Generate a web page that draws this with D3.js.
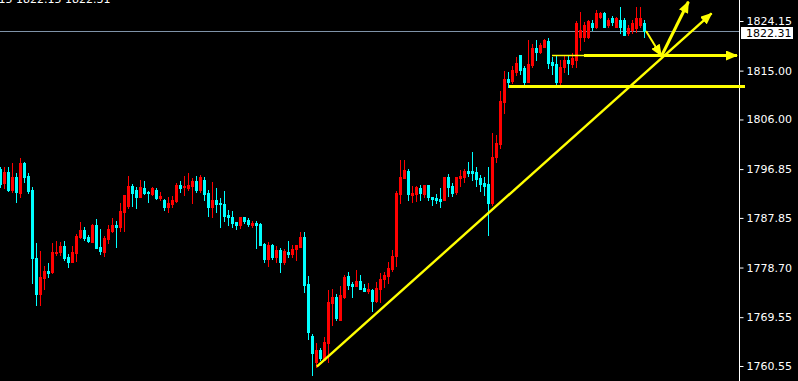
<!DOCTYPE html>
<html>
<head>
<meta charset="utf-8">
<script src="https://cdn.jsdelivr.net/npm/d3@7"></script>
<style>
  html, body { margin: 0; padding: 0; background: #000; overflow: hidden; }
  svg { display: block; }
</style>
</head>
<body>
<svg id="chart" width="798" height="381"></svg>
<script>
// OHLC, one bar per row: [open, high, low, close]
const candles = [
  [1796.87,1797.24,1793.55,1794.10],[1794.29,1797.24,1793.37,1796.32],[1796.32,1797.24,1792.81,1793.00],[1793.00,1797.97,1792.63,1795.39],
  [1795.39,1796.13,1790.79,1792.63],[1792.44,1798.90,1791.71,1797.97],[1797.97,1798.16,1794.47,1795.39],[1795.58,1796.13,1792.44,1792.81],
  [1793.00,1793.55,1775.85,1780.46],[1780.46,1783.23,1771.80,1773.83],[1773.83,1781.75,1771.80,1776.96],[1776.78,1778.99,1774.75,1778.07],
  [1778.07,1779.54,1776.96,1777.70],[1777.88,1783.23,1777.70,1781.57],[1781.38,1783.60,1781.02,1781.57],[1781.57,1783.41,1781.02,1782.67],
  [1782.67,1783.60,1780.09,1780.46],[1780.65,1781.20,1778.80,1779.73],[1779.73,1782.67,1779.73,1781.57],[1781.38,1784.89,1779.91,1784.52],
  [1784.33,1787.10,1784.15,1785.62],[1785.62,1786.18,1783.78,1784.15],[1784.33,1784.70,1783.41,1783.60],[1783.41,1786.73,1783.41,1786.55],
  [1786.55,1787.65,1782.31,1782.31],[1782.49,1785.81,1781.20,1781.75],[1781.57,1784.52,1780.83,1784.15],[1783.97,1786.55,1783.23,1785.81],
  [1785.44,1787.84,1785.26,1786.55],[1786.55,1787.28,1782.49,1786.18],[1786.18,1790.60,1785.44,1789.13],[1788.94,1792.08,1785.44,1792.08],
  [1790.05,1795.58,1789.68,1793.73],[1793.73,1794.10,1790.05,1792.44],[1793.00,1793.55,1789.68,1791.71],[1791.71,1794.84,1791.71,1793.55],
  [1793.37,1794.66,1792.26,1792.44],[1792.63,1792.81,1790.79,1792.44],[1792.26,1793.55,1792.08,1793.37],[1793.00,1793.37,1791.34,1791.52],
  [1791.52,1792.63,1791.15,1791.89],[1791.15,1791.34,1789.31,1789.86],[1789.86,1791.71,1788.94,1790.60],[1790.42,1791.89,1789.86,1791.15],
  [1790.97,1794.29,1790.79,1793.92],[1793.92,1794.66,1792.63,1793.37],[1793.55,1795.58,1792.08,1793.73],[1793.37,1796.13,1793.00,1793.92],
  [1793.73,1795.21,1790.60,1794.66],[1794.66,1795.58,1792.63,1793.00],[1793.00,1795.76,1792.63,1795.39],[1794.84,1795.39,1791.15,1792.26],
  [1792.44,1793.00,1788.20,1789.86],[1789.86,1794.47,1788.02,1791.15],[1791.15,1793.37,1788.94,1790.42],[1790.60,1791.52,1786.18,1790.42],
  [1790.42,1792.81,1787.28,1788.20],[1788.39,1789.31,1786.55,1788.02],[1788.02,1789.13,1786.18,1786.91],[1787.10,1787.10,1785.81,1786.55],
  [1786.55,1788.02,1785.99,1788.02],[1788.02,1788.02,1786.91,1787.28],[1787.47,1787.84,1786.36,1786.73],[1786.55,1787.28,1786.18,1786.91],
  [1786.91,1787.28,1782.31,1786.55],[1786.73,1786.91,1782.86,1782.86],[1783.04,1783.23,1779.73,1780.28],[1780.28,1783.41,1778.99,1782.86],
  [1782.86,1783.04,1780.28,1780.65],[1780.65,1782.67,1779.73,1781.94],[1781.94,1782.31,1777.88,1779.73],[1779.73,1782.12,1779.36,1781.75],
  [1781.57,1783.60,1780.65,1781.20],[1781.20,1782.86,1780.65,1782.12],[1782.12,1782.86,1780.09,1782.86],[1782.49,1785.26,1782.49,1784.33],
  [1784.33,1785.26,1774.20,1775.49],[1775.67,1777.15,1765.53,1766.82],[1766.09,1766.45,1758.90,1762.95],[1761.29,1764.80,1760.37,1763.50],
  [1763.50,1763.87,1761.66,1762.03],[1761.66,1765.90,1761.66,1764.98],[1764.80,1774.56,1761.29,1772.35],[1772.17,1774.75,1768.11,1773.27],
  [1773.27,1773.83,1769.03,1769.40],[1769.03,1775.30,1769.03,1773.64],[1773.27,1777.33,1773.09,1776.96],[1777.15,1777.88,1774.75,1775.49],
  [1775.67,1776.04,1773.27,1775.30],[1775.30,1778.25,1775.30,1776.22],[1776.22,1777.33,1774.75,1774.75],[1774.93,1775.67,1774.38,1774.38],
  [1774.38,1775.85,1774.01,1774.75],[1774.56,1774.75,1770.69,1772.54],[1772.54,1776.04,1772.35,1774.93],[1774.75,1777.70,1772.35,1776.59],
  [1776.59,1777.88,1775.12,1777.33],[1777.15,1779.73,1775.85,1778.62],[1778.43,1781.94,1778.07,1780.83],[1780.83,1792.81,1778.99,1792.44],
  [1792.26,1798.53,1790.60,1795.39],[1795.21,1798.53,1795.21,1796.68],[1796.50,1796.87,1791.15,1792.26],[1792.08,1793.73,1790.79,1792.44],
  [1792.26,1793.73,1790.97,1793.55],[1793.37,1793.92,1791.15,1792.44],[1792.26,1793.92,1791.71,1793.92],[1793.92,1793.92,1791.15,1791.71],
  [1791.71,1791.71,1790.23,1791.34],[1791.52,1792.26,1790.60,1791.15],[1791.34,1793.37,1789.86,1790.97],[1791.15,1795.39,1791.15,1795.39],
  [1795.39,1795.95,1791.89,1793.55],[1793.73,1794.29,1791.89,1792.44],[1792.63,1795.39,1792.26,1795.39],[1795.21,1796.68,1793.73,1795.58],
  [1795.39,1796.87,1794.47,1796.50],[1796.50,1798.16,1795.58,1796.13],[1796.50,1800.00,1794.84,1796.13],[1796.32,1797.24,1793.73,1795.03],
  [1795.21,1795.76,1792.81,1794.10],[1794.29,1795.39,1792.08,1793.73],[1794.10,1797.24,1784.70,1790.60],[1790.60,1803.50,1790.23,1799.08],
  [1799.08,1803.14,1798.16,1801.66],[1801.48,1811.25,1800.74,1809.40],[1809.22,1814.93,1807.19,1813.46],[1813.46,1814.75,1811.98,1812.91],
  [1813.09,1815.85,1812.72,1815.12],[1814.75,1817.51,1814.20,1816.41],[1817.88,1817.88,1814.38,1815.12],[1815.49,1815.85,1812.54,1812.91],
  [1812.91,1820.65,1812.91,1816.22],[1816.04,1819.91,1815.67,1819.17],[1819.17,1820.65,1816.96,1818.44],[1818.44,1820.09,1818.25,1819.73],
  [1819.36,1820.83,1819.36,1820.65],[1820.46,1821.02,1815.49,1816.41],[1816.59,1817.51,1814.38,1816.04],[1816.22,1817.88,1812.35,1812.91],
  [1812.91,1816.96,1812.35,1815.67],[1815.67,1817.88,1814.75,1816.96],[1816.96,1817.70,1814.38,1816.41],[1816.22,1818.25,1815.67,1817.33],
  [1816.96,1824.15,1815.67,1823.78],[1821.20,1825.81,1818.80,1822.49],[1821.20,1823.96,1820.46,1823.41],[1821.20,1824.33,1821.02,1824.15],
  [1823.78,1824.33,1822.49,1823.04],[1823.04,1826.18,1822.86,1825.62],[1824.89,1825.81,1824.70,1825.62],[1825.62,1825.81,1823.04,1823.04],
  [1823.41,1824.70,1823.04,1824.33],[1824.70,1825.07,1823.41,1823.96],[1823.04,1824.89,1823.04,1824.70],[1824.33,1826.73,1821.94,1823.04],
  [1824.33,1824.70,1821.57,1821.57],[1821.94,1823.41,1821.57,1822.86],[1822.49,1824.33,1821.94,1823.78],[1822.86,1826.73,1822.12,1824.70],
  [1823.41,1826.73,1823.04,1824.70],[1823.78,1824.33,1821.20,1822.31]
];

const priceTicks = [1760.55, 1769.55, 1778.70, 1787.85, 1796.85, 1806.00, 1815.00, 1824.15];
const lastPrice = 1822.31;
const headerText = "1822.15 1822.15 1822.31";

// hand drawn objects, as [bar index, price] points
const trendLine = [[79.2, 1760.43], [177.9, 1825.57]];
const supportLine = [[127.25, 1812.08], [186.25, 1812.08]];
const resistThin = [[138, 1817.79], [147, 1817.79]];
const resistArrow = [[146, 1817.79], [184.25, 1817.79]];
const downArrow = [[161.5, 1822.31], [165.3, 1817.75]];
const upArrow = [[165.5, 1817.88], [172.1, 1827.7]];

const W = 798, H = 381;
const svg = d3.select("#chart");
svg.append("rect").attr("width", W).attr("height", H).attr("fill", "#000");

const x = d3.scaleLinear().domain([0, candles.length - 1]).range([0, 644]);
const y = d3.scaleLinear().domain([1760.55, 1824.15]).range([366, 21]);

const defs = svg.append("defs");
defs.append("marker")
  .attr("id", "head")
  .attr("viewBox", "0 0 12 10")
  .attr("markerUnits", "userSpaceOnUse")
  .attr("markerWidth", 12).attr("markerHeight", 10)
  .attr("refX", 11).attr("refY", 5)
  .attr("orient", "auto")
  .append("path").attr("d", "M0,0 L12,5 L0,10 Z").attr("fill", "#ffff00");

// header line, mostly cut off at the top
svg.append("text")
  .attr("x", -33).attr("y", 3)
  .attr("fill", "#fff")
  .style("font", "11px 'DejaVu Sans'")
  .style("white-space", "pre")
  .text(headerText);

// last price line
svg.append("line")
  .attr("x1", 0).attr("x2", 739)
  .attr("y1", Math.round(y(lastPrice)) + 0.5).attr("y2", Math.round(y(lastPrice)) + 0.5)
  .attr("stroke", "#7f93a8").attr("stroke-width", 1);

// candles
const bars = svg.append("g").attr("shape-rendering", "crispEdges")
  .selectAll("g").data(candles).enter().append("g");

const col = d => d[3] >= d[0] ? "#ff0000" : "#00ffff";

bars.append("rect")
  .attr("x", (d, i) => Math.round(x(i)))
  .attr("y", d => Math.round(y(d[1])))
  .attr("width", 1)
  .attr("height", d => Math.max(1, Math.round(y(d[2])) - Math.round(y(d[1])) + 1))
  .attr("fill", col);

bars.append("rect")
  .attr("x", (d, i) => Math.round(x(i)) - 1)
  .attr("y", d => Math.round(y(Math.max(d[0], d[3]))))
  .attr("width", 3)
  .attr("height", d => Math.max(1, Math.round(y(Math.min(d[0], d[3]))) - Math.round(y(Math.max(d[0], d[3]))) + 1))
  .attr("fill", col);

// price axis
svg.append("line")
  .attr("x1", 739.5).attr("x2", 739.5).attr("y1", 0).attr("y2", H)
  .attr("stroke", "#fff").attr("stroke-width", 1);

const axis = svg.append("g")
  .attr("transform", "translate(739.5,0)")
  .call(d3.axisRight(y).tickValues(priceTicks).tickFormat(d3.format(".2f")).tickSize(4).tickPadding(3));
axis.select(".domain").remove();
axis.selectAll("line").attr("stroke", "#fff");
axis.selectAll("text")
  .attr("fill", "#fff")
  .style("font", "11px 'DejaVu Sans'");

// last price tag
const lpY = Math.round(y(lastPrice));
svg.append("rect")
  .attr("x", 741).attr("y", lpY - 4).attr("width", 52).attr("height", 12)
  .attr("fill", "#fff");
svg.append("text")
  .attr("x", 746).attr("y", lpY + 2).attr("dy", "0.32em")
  .attr("fill", "#000")
  .style("font", "11px 'DejaVu Sans'")
  .text(d3.format(".2f")(lastPrice));

// drawings
const line = d3.line().x(d => x(d[0])).y(d => y(d[1]));
const draw = svg.append("g").attr("fill", "none").attr("stroke", "#ffff00");

draw.append("path").attr("d", line(trendLine)).attr("stroke-width", 2.4).attr("marker-end", "url(#head)");
draw.append("path").attr("d", line(supportLine)).attr("stroke-width", 3);
draw.append("path").attr("d", line(resistThin)).attr("stroke-width", 1.5);
draw.append("path").attr("d", line(resistArrow)).attr("stroke-width", 3).attr("marker-end", "url(#head)");
draw.append("path").attr("d", line(downArrow)).attr("stroke-width", 2).attr("marker-end", "url(#head)");
draw.append("path").attr("d", line(upArrow)).attr("stroke-width", 3).attr("marker-end", "url(#head)");
</script>
</body>
</html>
